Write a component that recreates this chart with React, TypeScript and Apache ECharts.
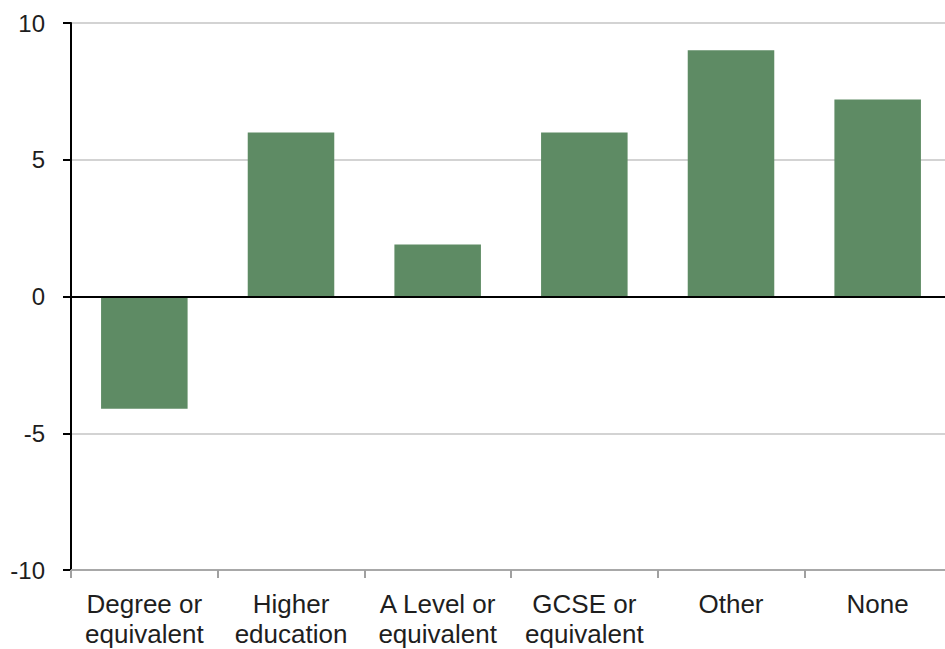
import React, { useEffect, useRef } from "react";
import * as echarts from "echarts";

const categories = [
  "Degree or\nequivalent",
  "Higher\neducation",
  "A Level or\nequivalent",
  "GCSE or\nequivalent",
  "Other",
  "None",
];
const values = [-4.1, 6.0, 1.9, 6.0, 9.0, 7.2];
const yMin = -10;
const yMax = 10;
const yInterval = 5;

export default function App() {
  const ref = useRef<HTMLDivElement>(null);
  useEffect(() => {
    if (!ref.current) return;
    const chart = echarts.init(ref.current, undefined, { renderer: "svg" });
    chart.setOption({
      animation: false,
      backgroundColor: "#ffffff",
      grid: { left: 71, top: 23, width: 880, bottom: 79, containLabel: false },
      xAxis: {
        type: "category",
        data: categories,
        boundaryGap: true,
        axisLine: { onZero: false, lineStyle: { color: "#a8a8a8", width: 2 } },
        axisTick: { show: true, length: 8, lineStyle: { color: "#a0a0a0", width: 2 } },
        axisLabel: {
          margin: 19,
          interval: 0,
          color: "#1e1e1e",
          fontFamily: "Liberation Sans, Arial, sans-serif",
          fontSize: 26,
          lineHeight: 30,
        },
        splitLine: { show: false },
      },
      yAxis: {
        type: "value",
        min: yMin,
        max: yMax,
        interval: yInterval,
        axisLine: { show: true, lineStyle: { color: "#000000", width: 2 } },
        axisTick: { show: true, length: 8, lineStyle: { color: "#000000", width: 2 } },
        axisLabel: {
          margin: 26,
          color: "#1e1e1e",
          fontFamily: "Liberation Sans, Arial, sans-serif",
          fontSize: 24,
        },
        splitLine: { show: true, lineStyle: { color: "#c4c4c4", width: 1.5 } },
      },
      series: [
        {
          type: "bar",
          data: values,
          barCategoryGap: "41%",
          itemStyle: { color: "#5e8b64" },
          markLine: {
            silent: true,
            symbol: ["none", "none"],
            label: { show: false },
            lineStyle: { color: "#000000", width: 2, type: "solid" },
            data: [{ yAxis: 0 }],
          },
        },
      ],
    });
    return () => chart.dispose();
  }, []);
  return (
    <div
      style={{
        position: "absolute",
        left: 0,
        top: 0,
        width: 945,
        height: 649,
        overflow: "hidden",
        background: "#ffffff",
      }}
    >
      <div ref={ref} style={{ width: 960, height: 649 }} />
    </div>
  );
}
